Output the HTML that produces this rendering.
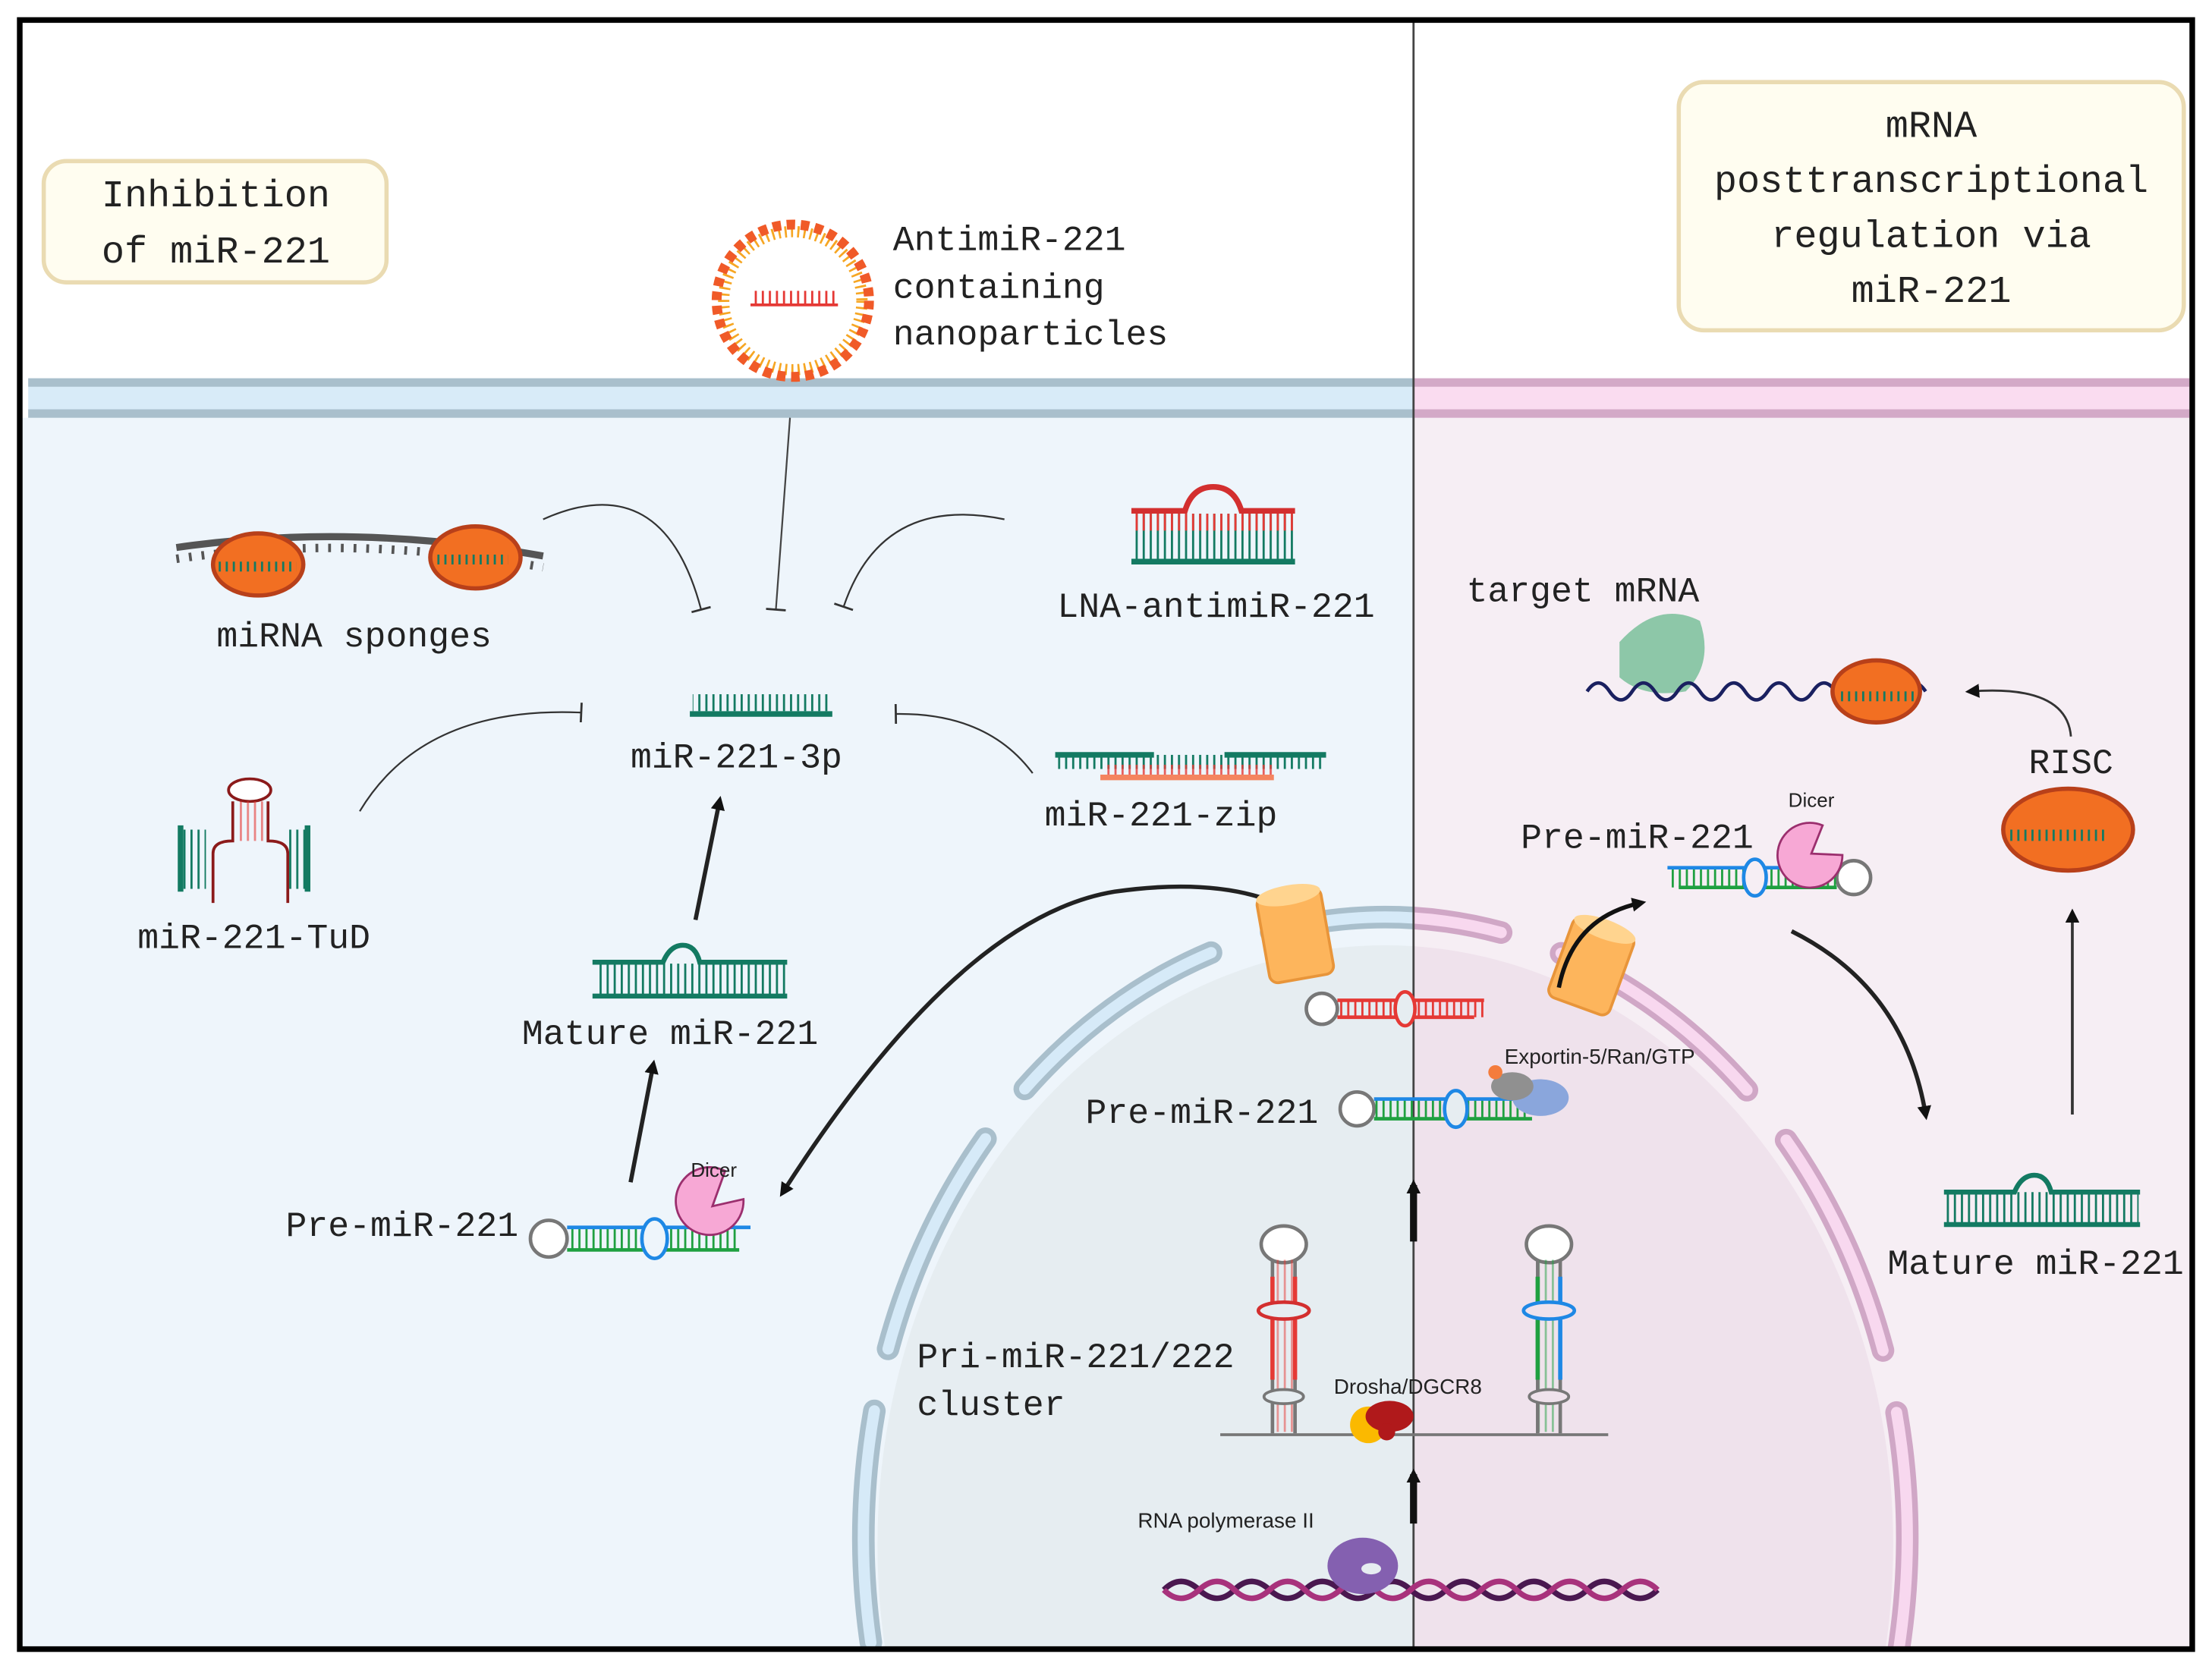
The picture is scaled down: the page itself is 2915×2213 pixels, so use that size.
<!DOCTYPE html>
<html><head><meta charset="utf-8"><style>
html,body{margin:0;padding:0;background:#fff;overflow:hidden;width:2915px;height:2213px;}
svg{display:block;}
text{font-family:"Liberation Mono",monospace;fill:#222;}
.s{font-family:"Liberation Sans",sans-serif;}
</style></head><body>
<svg width="2915" height="2213" viewBox="0 0 1568 1190" xmlns="http://www.w3.org/2000/svg">
<defs>
<clipPath id="L"><rect x="0" y="0" width="1002" height="1190"/></clipPath>
<clipPath id="R"><rect x="1002" y="0" width="600" height="1190"/></clipPath>
<clipPath id="in"><rect x="15" y="296" width="1538" height="872"/></clipPath>
<marker id="ah" markerWidth="10" markerHeight="10" refX="6" refY="5" orient="auto" markerUnits="userSpaceOnUse"><path d="M0,0 L10,5 L0,10 z" fill="#111"/></marker>
<marker id="tb" markerWidth="4" markerHeight="14" refX="2" refY="7" orient="auto" markerUnits="userSpaceOnUse"><path d="M2,0 L2,14" stroke="#333" stroke-width="1.5"/></marker>
<pattern id="rungG" width="5" height="14" patternUnits="userSpaceOnUse"><rect x="0" y="0" width="1.5" height="14" fill="#137a62"/></pattern>
<pattern id="rungGr" width="5" height="14" patternUnits="userSpaceOnUse"><rect x="0" y="0" width="1.5" height="14" fill="#1fa040"/></pattern>
<pattern id="rungR" width="5" height="14" patternUnits="userSpaceOnUse"><rect x="0" y="0" width="1.5" height="14" fill="#e53935"/></pattern>
</defs>
<rect width="1568" height="1190" fill="#fff"/>
<rect x="15" y="296" width="987" height="872" fill="#eef5fb"/>
<rect x="1002" y="296" width="553" height="872" fill="#f6eef4"/>
<g clip-path="url(#in)">
<ellipse cx="982" cy="1095" rx="360" ry="425" fill="#e6edf1" clip-path="url(#L)"/>
<ellipse cx="982" cy="1095" rx="360" ry="425" fill="#efe2ec" clip-path="url(#R)"/>
<g clip-path="url(#L)">
<ellipse cx="982" cy="1090" rx="370" ry="440" fill="none" stroke="#a9bfcc" stroke-width="16" stroke-linecap="round" stroke-dasharray="165 45" stroke-dashoffset="60"/>
<ellipse cx="982" cy="1090" rx="370" ry="440" fill="none" stroke="#d6eaf8" stroke-width="8" stroke-linecap="round" stroke-dasharray="165 45" stroke-dashoffset="60"/>
</g>
<g clip-path="url(#R)">
<ellipse cx="982" cy="1090" rx="370" ry="440" fill="none" stroke="#d0a7c6" stroke-width="16" stroke-linecap="round" stroke-dasharray="165 45" stroke-dashoffset="60"/>
<ellipse cx="982" cy="1090" rx="370" ry="440" fill="none" stroke="#f8d8ef" stroke-width="8" stroke-linecap="round" stroke-dasharray="165 45" stroke-dashoffset="60"/>
</g>
</g>
<rect x="20" y="268" width="982" height="28" fill="#d8ebf8"/>
<rect x="20" y="268" width="982" height="6" fill="#a9bfcc"/>
<rect x="20" y="290" width="982" height="6" fill="#a9bfcc"/>
<rect x="1002" y="268" width="550" height="28" fill="#fadcf0"/>
<rect x="1002" y="268" width="550" height="6" fill="#d3a9c7"/>
<rect x="1002" y="290" width="550" height="6" fill="#d3a9c7"/>
<line x1="1002" y1="15" x2="1002" y2="1168" stroke="#444" stroke-width="1.5"/>
<rect x="14" y="14" width="1540" height="1155" fill="none" stroke="#000" stroke-width="4"/>
<rect x="31" y="114" width="243" height="86" rx="16" fill="#fffdf0" stroke="#eadbb2" stroke-width="3"/>
<text x="153" y="146" font-size="27" text-anchor="middle">Inhibition</text>
<text x="153" y="186" font-size="27" text-anchor="middle">of miR-221</text>
<rect x="1190" y="58" width="358" height="176" rx="18" fill="#fffdf0" stroke="#eadbb2" stroke-width="3"/>
<text x="1369" y="97" font-size="27" text-anchor="middle">mRNA</text>
<text x="1369" y="136" font-size="27" text-anchor="middle">posttranscriptional</text>
<text x="1369" y="175" font-size="27" text-anchor="middle">regulation via</text>
<text x="1369" y="214" font-size="27" text-anchor="middle">miR-221</text>
<circle cx="562" cy="213" r="49" fill="none" stroke="#f6a623" stroke-width="8" stroke-dasharray="1.5 3"/>
<circle cx="562" cy="213" r="54" fill="none" stroke="#f05a28" stroke-width="7" stroke-dasharray="6 4"/>
<circle cx="562" cy="213" r="43" fill="#fff"/>
<rect x="533" y="206" width="60" height="10" fill="url(#rungR)"/>
<line x1="532" y1="216" x2="594" y2="216" stroke="#e53935" stroke-width="2"/>
<text x="633" y="177" font-size="25">AntimiR-221</text>
<text x="633" y="211" font-size="25">containing</text>
<text x="633" y="244" font-size="25">nanoparticles</text>
<path d="M560,296 L550,432" stroke="#444" stroke-width="1.2" fill="none" marker-end="url(#tb)"/>
<path d="M385,368 Q470,330 497,432" stroke="#333" stroke-width="1.2" fill="none" marker-end="url(#tb)"/>
<path d="M712,368 Q625,350 598,430" stroke="#333" stroke-width="1.2" fill="none" marker-end="url(#tb)"/>
<path d="M255,575 Q300,500 412,505" stroke="#333" stroke-width="1.2" fill="none" marker-end="url(#tb)"/>
<path d="M732,548 Q700,505 635,506" stroke="#333" stroke-width="1.2" fill="none" marker-end="url(#tb)"/>
<path d="M125,388 Q250,370 385,394" stroke="#555" stroke-width="5" fill="none"/>
<path d="M125,396 Q250,378 385,402" stroke="#555" stroke-width="6" fill="none" stroke-dasharray="2 7"/>
<ellipse cx="183" cy="400" rx="32" ry="22" fill="#f26f22" stroke="#b8401a" stroke-width="3"/>
<ellipse cx="337" cy="395" rx="32" ry="22" fill="#f26f22" stroke="#b8401a" stroke-width="3"/>
<rect x="155" y="398" width="55" height="7" fill="url(#rungG)"/>
<rect x="310" y="393" width="50" height="7" fill="url(#rungG)"/>
<text x="251" y="458" font-size="25" text-anchor="middle">miRNA sponges</text>
<path d="M802,362 L840,362 Q845,345 860,345 Q875,345 880,362 L918,362" stroke="#d32f2f" stroke-width="4" fill="none"/>
<rect x="804" y="364" width="114" height="32" fill="url(#rungG)"/>
<rect x="804" y="364" width="114" height="12" fill="url(#rungR)"/>
<line x1="802" y1="398" x2="918" y2="398" stroke="#137a62" stroke-width="4"/>
<text x="862" y="437" font-size="25" text-anchor="middle">LNA-antimiR-221</text>
<rect x="491" y="492" width="98" height="12" fill="url(#rungG)"/>
<line x1="489" y1="506" x2="590" y2="506" stroke="#137a62" stroke-width="4"/>
<text x="522" y="544" font-size="25" text-anchor="middle">miR-221-3p</text>
<rect x="750" y="535" width="190" height="10" fill="url(#rungG)"/>
<line x1="748" y1="535" x2="818" y2="535" stroke="#137a62" stroke-width="4"/>
<line x1="868" y1="535" x2="940" y2="535" stroke="#137a62" stroke-width="4"/>
<rect x="782" y="542" width="120" height="8" fill="url(#rungR)" opacity=".8"/>
<line x1="780" y1="551" x2="903" y2="551" stroke="#f4845f" stroke-width="4"/>
<text x="823" y="585" font-size="25" text-anchor="middle">miR-221-zip</text>
<path d="M151,640 L151,605 Q151,596 165,596 L165,568" stroke="#8b1a1a" stroke-width="2" fill="none"/>
<path d="M204,640 L204,605 Q204,596 190,596 L190,568" stroke="#8b1a1a" stroke-width="2" fill="none"/>
<ellipse cx="177" cy="560" rx="15" ry="8" fill="#fff" stroke="#8b1a1a" stroke-width="2"/>
<rect x="167" y="568" width="20" height="28" fill="url(#rungR)" opacity=".6"/>
<rect x="130" y="588" width="16" height="42" fill="url(#rungG)"/>
<rect x="204" y="588" width="16" height="42" fill="url(#rungG)"/>
<line x1="128" y1="585" x2="128" y2="632" stroke="#137a62" stroke-width="4"/>
<line x1="218" y1="585" x2="218" y2="632" stroke="#137a62" stroke-width="4"/>
<text x="180" y="672" font-size="25" text-anchor="middle">miR-221-TuD</text>
<rect x="422" y="683" width="136" height="22" fill="url(#rungG)"/>
<path d="M420,682 L470,682 Q475,670 484,670 Q493,670 496,682 L558,682" stroke="#137a62" stroke-width="3.5" fill="none"/>
<line x1="420" y1="706" x2="558" y2="706" stroke="#137a62" stroke-width="3.5"/>
<text x="475" y="740" font-size="25" text-anchor="middle">Mature miR-221</text>
<line x1="493" y1="652" x2="510" y2="568" stroke="#222" stroke-width="3" marker-end="url(#ah)"/>
<line x1="447" y1="838" x2="463" y2="755" stroke="#222" stroke-width="3" marker-end="url(#ah)"/>
<circle cx="389" cy="878" r="13" fill="#fff" stroke="#777" stroke-width="2.5"/>
<rect x="402" y="870" width="122" height="16" fill="url(#rungGr)"/>
<line x1="402" y1="870" x2="532" y2="870" stroke="#1e88e5" stroke-width="2.5"/>
<line x1="402" y1="886" x2="524" y2="886" stroke="#1fa040" stroke-width="2.5"/>
<ellipse cx="464" cy="878" rx="9" ry="14" fill="#eef5fb" stroke="#1e88e5" stroke-width="2.5"/>
<path d="M527,850 A24,24 0 1 1 514,830 L505,855 z" fill="#f7a8d5" stroke="#9b2f6e" stroke-width="1.5"/>
<text x="506" y="834" font-size="14" class="s" text-anchor="middle">Dicer</text>
<text x="285" y="876" font-size="25" text-anchor="middle">Pre-miR-221</text>
<path d="M905,640 Q860,622 790,632 Q680,650 555,845" stroke="#222" stroke-width="3" fill="none" marker-end="url(#ah)"/>
<g transform="rotate(-10 918 662)">
<rect x="895" y="632" width="46" height="62" rx="6" fill="#fdb55c" stroke="#e8953a" stroke-width="2"/>
<ellipse cx="918" cy="634" rx="23" ry="7" fill="#ffd48f"/>
</g>
<g transform="rotate(20 1128 685)">
<rect x="1105" y="655" width="46" height="60" rx="6" fill="#fdb55c" stroke="#e8953a" stroke-width="2"/>
<ellipse cx="1128" cy="657" rx="23" ry="7" fill="#ffd48f"/>
</g>
<path d="M1105,700 Q1115,650 1163,640" stroke="#111" stroke-width="3" fill="none" marker-end="url(#ah)"/>
<circle cx="937" cy="715" r="11" fill="#fff" stroke="#777" stroke-width="2.5"/>
<rect x="948" y="709" width="104" height="12" fill="url(#rungR)"/>
<line x1="948" y1="709" x2="1052" y2="709" stroke="#e53935" stroke-width="2.5"/>
<line x1="948" y1="721" x2="1045" y2="721" stroke="#e53935" stroke-width="2.5"/>
<ellipse cx="996" cy="715" rx="7" ry="12" fill="#e6edf1" stroke="#e53935" stroke-width="2.5"/>
<text x="852" y="796" font-size="25" text-anchor="middle">Pre-miR-221</text>
<circle cx="962" cy="786" r="12" fill="#fff" stroke="#777" stroke-width="2.5"/>
<rect x="974" y="779" width="110" height="14" fill="url(#rungGr)"/>
<line x1="974" y1="779" x2="1075" y2="779" stroke="#1e88e5" stroke-width="2.5"/>
<line x1="974" y1="793" x2="1086" y2="793" stroke="#1fa040" stroke-width="2.5"/>
<ellipse cx="1032" cy="786" rx="8" ry="13" fill="#e6edf1" stroke="#1e88e5" stroke-width="2.5"/>
<ellipse cx="1092" cy="778" rx="20" ry="13" fill="#8aa6dc"/>
<ellipse cx="1072" cy="770" rx="15" ry="10" fill="#909090"/>
<circle cx="1060" cy="760" r="5" fill="#f47c3c"/>
<text x="1134" y="754" font-size="15" class="s" text-anchor="middle">Exportin-5/Ran/GTP</text>
<line x1="1002" y1="880" x2="1002" y2="840" stroke="#111" stroke-width="5" marker-end="url(#ah)"/>
<line x1="1002" y1="1080" x2="1002" y2="1045" stroke="#111" stroke-width="5" marker-end="url(#ah)"/>
<line x1="865" y1="1017" x2="1140" y2="1017" stroke="#777" stroke-width="2"/>
<g>
<ellipse cx="910" cy="882" rx="16" ry="13" fill="#fff" stroke="#777" stroke-width="2.5"/>
<rect x="902" y="893" width="16" height="122" fill="url(#rungR)" opacity=".5"/>
<line x1="902" y1="893" x2="902" y2="1016" stroke="#777" stroke-width="2.5"/>
<line x1="918" y1="893" x2="918" y2="1016" stroke="#777" stroke-width="2.5"/>
<line x1="902" y1="905" x2="902" y2="978" stroke="#e53935" stroke-width="3"/>
<line x1="918" y1="905" x2="918" y2="978" stroke="#e53935" stroke-width="3"/>
<ellipse cx="910" cy="929" rx="18" ry="6" fill="#e6edf1" stroke="#d32f2f" stroke-width="2.5"/>
<ellipse cx="910" cy="990" rx="14" ry="5" fill="#e6edf1" stroke="#777" stroke-width="2"/>
</g>
<g>
<ellipse cx="1098" cy="882" rx="16" ry="13" fill="#fff" stroke="#777" stroke-width="2.5"/>
<rect x="1090" y="893" width="16" height="122" fill="url(#rungGr)" opacity=".5"/>
<line x1="1090" y1="893" x2="1090" y2="1016" stroke="#777" stroke-width="2.5"/>
<line x1="1106" y1="893" x2="1106" y2="1016" stroke="#777" stroke-width="2.5"/>
<line x1="1090" y1="905" x2="1090" y2="978" stroke="#1fa040" stroke-width="3"/>
<line x1="1106" y1="905" x2="1106" y2="978" stroke="#1e88e5" stroke-width="3"/>
<ellipse cx="1098" cy="929" rx="18" ry="6" fill="#efe2ec" stroke="#1e88e5" stroke-width="2.5"/>
<ellipse cx="1098" cy="990" rx="14" ry="5" fill="#efe2ec" stroke="#777" stroke-width="2"/>
</g>
<circle cx="970" cy="1010" r="13" fill="#fbb900"/>
<ellipse cx="985" cy="1004" rx="17" ry="11" fill="#b0191b"/>
<circle cx="983" cy="1015" r="6" fill="#b0191b"/>
<text x="998" y="988" font-size="15" class="s" text-anchor="middle">Drosha/DGCR8</text>
<text x="650" y="969" font-size="25">Pri-miR-221/222</text>
<text x="650" y="1003" font-size="25">cluster</text>
<path d="M825,1127 q12,-12 25,0 t25,0 t25,0 t25,0 t25,0 t25,0 t25,0 t25,0 t25,0 t25,0 t25,0 t25,0 t25,0 t25,0" stroke="#4a1850" stroke-width="4" fill="none"/>
<path d="M825,1127 q12,12 25,0 t25,0 t25,0 t25,0 t25,0 t25,0 t25,0 t25,0 t25,0 t25,0 t25,0 t25,0 t25,0 t25,0" stroke="#a8327c" stroke-width="4" fill="none"/>
<ellipse cx="966" cy="1110" rx="25" ry="20" fill="#8460b0"/>
<ellipse cx="972" cy="1112" rx="7" ry="4" fill="#e6edf1"/>
<text x="869" y="1083" font-size="15" class="s" text-anchor="middle">RNA polymerase II</text>
<text x="1078" y="601" font-size="25">Pre-miR-221</text>
<circle cx="1314" cy="622" r="12" fill="#fff" stroke="#777" stroke-width="2.5"/>
<rect x="1185" y="615" width="118" height="14" fill="url(#rungGr)"/>
<line x1="1182" y1="615" x2="1302" y2="615" stroke="#1e88e5" stroke-width="2.5"/>
<line x1="1190" y1="629" x2="1302" y2="629" stroke="#1fa040" stroke-width="2.5"/>
<ellipse cx="1244" cy="622" rx="8" ry="13" fill="#f6eef4" stroke="#1e88e5" stroke-width="2.5"/>
<path d="M1306,606 A23,23 0 1 1 1292,585 L1284,605 z" fill="#f7a8d5" stroke="#9b2f6e" stroke-width="1.5"/>
<text x="1284" y="572" font-size="14" class="s" text-anchor="middle">Dicer</text>
<path d="M1270,660 Q1350,700 1365,790" stroke="#222" stroke-width="3" fill="none" marker-end="url(#ah)"/>
<rect x="1380" y="845" width="136" height="22" fill="url(#rungG)"/>
<path d="M1378,845 L1428,845 Q1433,833 1442,833 Q1451,833 1454,845 L1517,845" stroke="#137a62" stroke-width="3.5" fill="none"/>
<line x1="1378" y1="868" x2="1517" y2="868" stroke="#137a62" stroke-width="3.5"/>
<text x="1443" y="903" font-size="25" text-anchor="middle">Mature miR-221</text>
<line x1="1469" y1="790" x2="1469" y2="648" stroke="#333" stroke-width="2" marker-end="url(#ah)"/>
<ellipse cx="1466" cy="588" rx="46" ry="29" fill="#f26f22" stroke="#b8401a" stroke-width="3"/>
<rect x="1423" y="588" width="70" height="8" fill="url(#rungG)"/>
<text x="1468" y="548" font-size="25" text-anchor="middle">RISC</text>
<path d="M1468,522 Q1465,485 1397,490" stroke="#333" stroke-width="1.5" fill="none" marker-end="url(#ah)"/>
<path d="M1148,455 Q1175,425 1205,440 Q1215,470 1195,490 Q1165,495 1148,480 z" fill="#8dc7a8"/>
<path d="M1125,490 q8,-12 16,0 t16,0 t16,0 t16,0 t16,0 t16,0 t16,0 t16,0 t16,0 t16,0 t16,0 t16,0 t16,0 t16,0 t16,0" stroke="#1a2060" stroke-width="2.5" fill="none"/>
<ellipse cx="1330" cy="490" rx="31" ry="22" fill="#f26f22" stroke="#b8401a" stroke-width="3"/>
<rect x="1305" y="490" width="55" height="7" fill="url(#rungG)"/>
<text x="1122" y="426" font-size="25" text-anchor="middle">target mRNA</text>
</svg>
</body></html>
